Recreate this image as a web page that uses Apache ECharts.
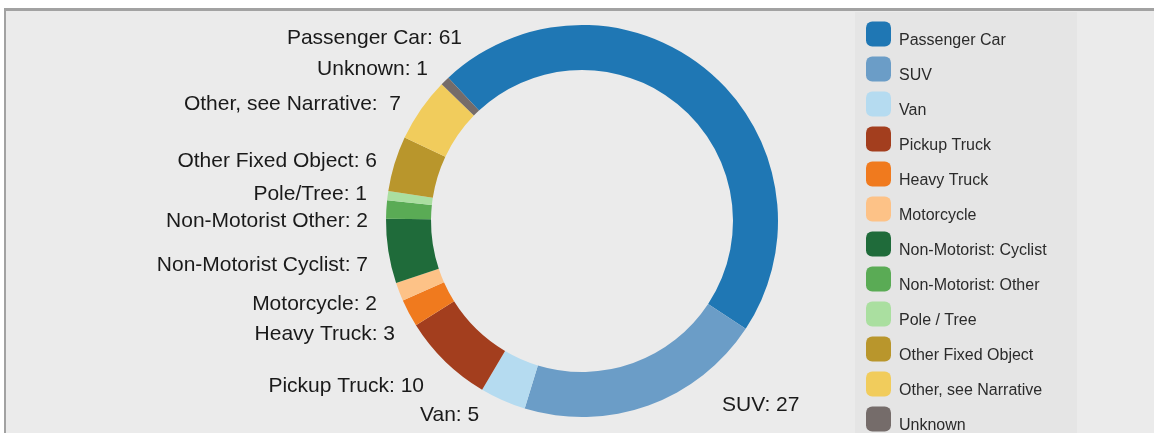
<!DOCTYPE html>
<html>
<head>
<meta charset="utf-8">
<script src="https://cdn.jsdelivr.net/npm/echarts@6/dist/echarts.min.js"></script>
<style>
  html, body { margin: 0; padding: 0; background: #fff; }
  #frame {
    position: absolute; left: 4px; top: 8px; right: 0; bottom: 0;
    background: #ebebeb;
    border-top: 3px solid #a2a2a2;
    border-left: 2px solid #a2a2a2;
  }
  #chart { position: absolute; left: 0; top: 0; width: 1154px; height: 433px; }
</style>
</head>
<body>
<div id="frame"></div>
<div id="chart"></div>
<script>
// categories as shown in the legend
const categories = ['Passenger Car', 'SUV', 'Van', 'Pickup Truck', 'Heavy Truck', 'Motorcycle',
  'Non-Motorist: Cyclist', 'Non-Motorist: Other', 'Pole / Tree', 'Other Fixed Object',
  'Other, see Narrative', 'Unknown'];
// text used in the slice labels
const labelNames = ['Passenger Car:', 'SUV:', 'Van:', 'Pickup Truck:', 'Heavy Truck:', 'Motorcycle:',
  'Non-Motorist Cyclist:', 'Non-Motorist Other:', 'Pole/Tree:', 'Other Fixed Object:',
  'Other, see Narrative: ', 'Unknown:'];
const counts = [61, 27, 5, 10, 3, 2, 7, 2, 1, 6, 7, 1];
const colors = ['#1f77b4', '#6b9dc7', '#b5dbf0', '#a33e1e', '#f07a1e', '#fdc287',
  '#1f6b3a', '#5aab55', '#aadfa0', '#b9962c', '#f1cc5c', '#756c6a'];

// where each label sits (x, y, align), same order as categories
const labelSpots = [
  [462, 38, 'right'], [722, 405, 'left'], [420, 415, 'left'], [424, 386, 'right'],
  [395, 334, 'right'], [377, 304, 'right'], [368, 265, 'right'], [368, 221, 'right'],
  [367, 194, 'right'], [377, 161, 'right'], [401, 104, 'right'], [428, 69, 'right']
];

const font = 'Arial, "Liberation Sans", sans-serif';
const chart = echarts.init(document.getElementById('chart'), null, { renderer: 'canvas' });

const option = {
  backgroundColor: 'transparent',
  animation: false,
  color: colors,
  graphic: [
    {
      type: 'rect', z: -1, silent: true,
      shape: { x: 855, y: 12, width: 222, height: 425 },
      style: { fill: '#e5e5e5' }
    }
  ],
  legend: {
    orient: 'vertical',
    left: 866,
    top: 18,
    height: 440,
    padding: 0,
    itemWidth: 25,
    itemHeight: 25,
    itemGap: 4.5,
    icon: 'roundRect',
    selectedMode: false,
    data: categories,
    // empty first line pushes the name a little below the swatch centre
    formatter: (name) => '{g|}\n{t|' + name + '}',
    textStyle: {
      fontFamily: font,
      fontSize: 16,
      color: '#2b2b2b',
      padding: [0, 0, 0, 3],
      rich: {
        g: { height: 13, lineHeight: 13 },
        t: { fontFamily: font, fontSize: 16, lineHeight: 16, color: '#2b2b2b' }
      }
    }
  },
  series: [
    {
      type: 'pie',
      center: [582, 221],
      radius: [151, 196],
      startAngle: 133,
      clockwise: true,
      avoidLabelOverlap: false,
      label: {
        show: true,
        position: 'outside',
        fontFamily: font,
        fontSize: 21,
        color: '#1a1a1a',
        formatter: (p) => labelNames[p.dataIndex] + ' ' + p.value
      },
      labelLine: { show: false },
      labelLayout: (p) => {
        const s = labelSpots[p.dataIndex];
        return { x: s[0], y: s[1], align: s[2], verticalAlign: 'middle', moveOverlap: false };
      },
      emphasis: { disabled: true },
      data: categories.map((name, i) => ({ name: name, value: counts[i] }))
    }
  ]
};

chart.setOption(option);
</script>
</body>
</html>
